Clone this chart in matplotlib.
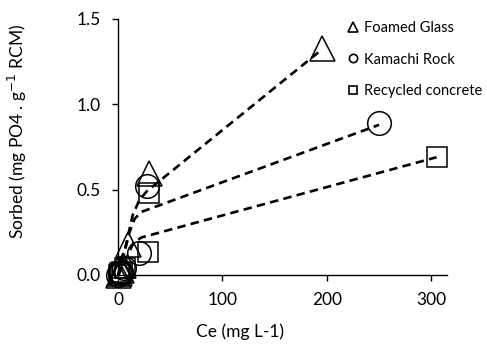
import matplotlib
matplotlib.use("Agg")
import matplotlib.pyplot as plt
from matplotlib.lines import Line2D

plt.rcParams['font.family'] = ['Lato', 'DejaVu Sans']

# Observed data
fg_ce = [0.2, 1.0, 2.5, 5.0, 10.0, 30.0, 195.0]
fg_q = [0.0, 0.01, 0.03, 0.06, 0.18, 0.60, 1.33]
kr_ce = [0.3, 1.5, 3.0, 6.0, 20.0, 28.0, 250.0]
kr_q = [0.0, 0.01, 0.02, 0.04, 0.13, 0.52, 0.89]
rc_ce = [0.5, 2.0, 4.0, 7.0, 29.0, 30.0, 305.0]
rc_q = [0.0, 0.01, 0.02, 0.04, 0.135, 0.48, 0.69]

# Model fits (dashed)
fg_fit_ce = [0.2, 2.0, 6.0, 14.0, 20.5, 27.5, 195.0]
fg_fit_q = [0.0, 0.05, 0.13, 0.35, 0.44, 0.49, 1.32]
kr_fit_ce = [0.3, 3.0, 11.0, 16.0, 22.5, 250.0]
kr_fit_q = [0.0, 0.06, 0.25, 0.33, 0.37, 0.88]
rc_fit_ce = [0.5, 5.0, 15.0, 22.5, 305.0]
rc_fit_q = [0.0, 0.06, 0.19, 0.22, 0.69]

labels = ["Foamed Glass", "Kamachi Rock", "Recycled concrete"]
xticks = [0, 100, 200, 300]
yticks = [0.0, 0.5, 1.0, 1.5]
ytick_labels = ["0.0", "0.5", "1.0", "1.5"]

fig = plt.figure(figsize=(4.87, 3.47), dpi=100)
ax = fig.add_axes([0.2423, 0.2075, 0.6756, 0.7378])

dash = (3.2, 2.0)
for ce, q in [(fg_fit_ce, fg_fit_q), (kr_fit_ce, kr_fit_q), (rc_fit_ce, rc_fit_q)]:
    ax.plot(ce, q, color='black', lw=1.9, dashes=dash, zorder=2, clip_on=False)

ax.plot(fg_ce, fg_q, linestyle='none', marker='^', ms=18, mfc='none', mec='black', mew=1.1, zorder=3, clip_on=False)
ax.plot(kr_ce, kr_q, linestyle='none', marker='o', ms=17, mfc='none', mec='black', mew=1.1, zorder=3, clip_on=False)
ax.plot(rc_ce, rc_q, linestyle='none', marker='s', ms=14.5, mfc='none', mec='black', mew=1.1, zorder=3, clip_on=False)

ax.set_xlim(0, 315)
ax.set_ylim(0, 1.5)
ax.set_xticks(xticks)
ax.set_yticks(yticks)
ax.set_yticklabels(ytick_labels)
for s in ['top', 'right']:
    ax.spines[s].set_visible(False)
for s in ['left', 'bottom']:
    ax.spines[s].set_linewidth(1.0)
ax.tick_params(direction='out', length=4.5, width=1.0, labelsize=12.5, pad=8)

ax.set_xlabel("Ce (mg L-1)", fontsize=12.5, labelpad=8)
ax.xaxis.set_label_coords(0.37, -0.19)
ax.set_ylabel(r"Sorbed (mg PO4 . g$^{-1}$ RCM)", fontsize=12.5)
ax.yaxis.set_label_coords(-0.27, 0.56)

handles = [Line2D([], [], linestyle='none', marker=m, ms=ms, mfc='none', mec='black', mew=1.2)
           for m, ms in [('^', 6.5), ('o', 6), ('s', 6)]]
leg = fig.legend(handles, labels, loc='upper left', bbox_to_anchor=(348/487, 1 - 21/347),
                 frameon=False, fontsize=10.5, handlelength=0.7, handletextpad=0.4,
                 labelspacing=1.2, borderpad=0, borderaxespad=0)

fig.savefig("out.png", dpi=100)
